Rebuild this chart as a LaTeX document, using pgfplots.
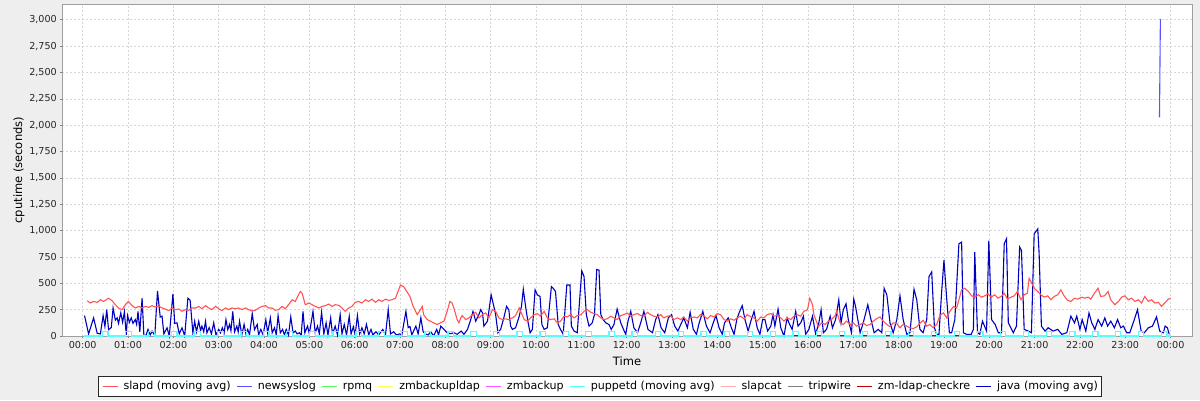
\documentclass[border=0pt]{standalone}
\usepackage{fontspec}
\setmainfont{DejaVu Sans}
\usepackage{pgfplots}
\pgfplotsset{compat=1.18}
\definecolor{bgc}{HTML}{EEEEEE}
\definecolor{gridc}{HTML}{D6D6D6}
\definecolor{slapd}{HTML}{FF5555}
\definecolor{newsys}{HTML}{5555FF}
\definecolor{rpmq}{HTML}{55FF55}
\definecolor{zmbl}{HTML}{FFFF55}
\definecolor{zmb}{HTML}{FF55FF}
\definecolor{pup}{HTML}{55FFFF}
\definecolor{slapcat}{HTML}{FFAFAF}
\definecolor{trip}{HTML}{808080}
\definecolor{zmldap}{HTML}{C00000}
\definecolor{java}{HTML}{0000C0}
\begin{document}
\begin{tikzpicture}[x=1pt,y=1pt]
\useasboundingbox (0,0) rectangle (1200,400);
\fill[bgc] (0,0) rectangle (1200,400);
\begin{axis}[
  at={(62pt,64pt)}, anchor=south west,
  scale only axis, width=1130pt, height=331.7pt,
  xmin=-0.457, xmax=24.473, ymin=0, ymax=3148,
  axis background/.style={fill=white},
  clip=false,
  xtick={0,...,24},
  xticklabels={00:00,01:00,02:00,03:00,04:00,05:00,06:00,07:00,08:00,09:00,10:00,11:00,12:00,13:00,14:00,15:00,16:00,17:00,18:00,19:00,20:00,21:00,22:00,23:00,00:00},
  ytick={0,250,...,3000},
  tick align=outside, xtick pos=bottom, ytick pos=left,
  major tick length=2pt,
  tick style={gray, line width=0.8pt},
  axis line style={draw=gray!75, line width=0.8pt},
  grid=major,
  major grid style={gridc, dash pattern=on 2pt off 2pt, line width=0.8pt},
  /pgf/number format/assume math mode=true,
  /pgf/number format/1000 sep={,},
  ticklabel style={font=\fontsize{9.6}{11}\selectfont, text=black!85},
  xticklabel style={anchor=north, inner sep=0pt, yshift=-3pt},
  yticklabel style={anchor=east, inner sep=0pt, xshift=-3pt},
  xlabel={Time},
  ylabel={cputime (seconds)},
  label style={font=\fontsize{11.5}{13}\selectfont},
  xlabel style={at={(axis description cs:0.5,-0.0754)}, anchor=center},
  ylabel style={at={(axis description cs:-0.0381,0.5)}, anchor=center, rotate=0},
  legend columns=10,
  reverse legend,
  legend style={at={(axis description cs:0.4761,-0.1206)}, anchor=north,
    draw=black!85, line width=1pt, fill=white,
    font=\fontsize{11.1}{13}\selectfont,
    inner xsep=4pt, inner ysep=4.5pt, column sep=5.5pt,
    nodes={inner sep=0pt, text height=8.5pt, text depth=2.5pt}},
  legend image code/.code={\draw[#1, line width=1pt] (0pt,0pt) -- (15pt,0pt);},
]
% java (moving avg)
\addplot[java, line width=1.1pt] coordinates {
(0.04,194)(0.13,20)(0.24,172)(0.32,25)(0.39,20)(0.45,194)(0.49,90)(0.53,250)(0.57,60)(0.63,80)(0.67,266)(0.72,150)(0.76,172)(0.79,120)(0.84,220)(0.88,130)(0.92,230)(0.96,10)(0.99,194)(1.03,130)(1.07,172)(1.11,120)(1.16,156)(1.19,110)(1.22,234)(1.26,40)(1.31,359)(1.35,0)(1.40,10)(1.44,63)(1.49,10)(1.53,47)(1.59,5)(1.65,428)(1.71,180)(1.75,188)(1.79,20)(1.86,78)(1.91,0)(1.99,400)(2.03,120)(2.08,125)(2.13,20)(2.19,78)(2.25,0)(2.32,359)(2.37,340)(2.43,30)(2.47,140)(2.51,40)(2.56,140)(2.60,50)(2.63,94)(2.67,40)(2.71,140)(2.74,30)(2.79,80)(2.84,20)(2.89,125)(2.94,10)(3.00,63)(3.04,30)(3.08,78)(3.12,30)(3.16,156)(3.20,60)(3.24,110)(3.27,50)(3.31,234)(3.35,40)(3.40,94)(3.43,40)(3.46,140)(3.51,10)(3.56,110)(3.60,20)(3.64,63)(3.68,10)(3.74,213)(3.79,60)(3.85,110)(3.88,10)(3.93,63)(3.98,10)(4.04,156)(4.08,30)(4.14,172)(4.18,30)(4.23,78)(4.27,10)(4.31,194)(4.36,30)(4.41,63)(4.45,10)(4.49,63)(4.54,10)(4.59,181)(4.64,30)(4.69,47)(4.73,20)(4.78,31)(4.82,5)(4.86,234)(4.90,30)(4.96,94)(5.00,20)(5.08,234)(5.13,30)(5.18,94)(5.22,20)(5.27,225)(5.32,20)(5.37,125)(5.41,10)(5.47,172)(5.51,20)(5.57,94)(5.62,10)(5.68,203)(5.72,20)(5.77,110)(5.82,10)(5.88,188)(5.92,20)(5.97,88)(6.01,10)(6.06,194)(6.11,20)(6.16,78)(6.21,20)(6.26,110)(6.31,10)(6.36,63)(6.40,10)(6.47,40)(6.53,10)(6.62,63)(6.68,10)(6.74,250)(6.79,20)(6.86,40)(6.92,10)(6.99,20)(7.04,10)(7.13,234)(7.18,80)(7.22,90)(7.26,10)(7.35,94)(7.40,20)(7.46,172)(7.51,40)(7.56,20)(7.62,10)(7.68,40)(7.74,0)(7.81,63)(7.85,10)(7.90,94)
(7.97,63)(8.04,31)(8.12,22)(8.19,31)(8.26,16)(8.35,47)(8.41,16)(8.49,63)(8.56,156)(8.61,234)(8.67,141)(8.74,203)(8.78,250)(8.82,219)(8.85,94)(8.93,141)(9.01,391)(9.07,281)(9.11,203)(9.16,31)(9.22,63)(9.29,172)(9.35,281)(9.40,250)(9.44,94)(9.48,63)(9.55,78)(9.63,188)(9.68,281)(9.72,444)(9.77,281)(9.82,141)(9.87,31)(9.92,63)(9.98,438)(10.03,391)(10.09,375)(10.13,109)(10.18,63)(10.25,78)(10.34,469)(10.38,453)(10.43,422)(10.49,109)(10.54,63)(10.60,16)(10.68,484)(10.75,484)(10.78,94)(10.84,47)(10.91,31)(11.01,619)(11.06,563)(11.11,203)(11.17,94)(11.24,125)(11.29,203)(11.34,631)(11.39,625)(11.43,203)(11.48,156)(11.54,125)(11.61,109)(11.66,63)(11.72,109)(11.79,256)(11.87,125)(11.93,63)(11.98,16)(12.03,141)(12.09,234)(12.16,78)(12.24,31)(12.31,125)(12.38,234)(12.47,63)(12.57,31)(12.64,156)(12.69,203)(12.76,78)(12.84,31)(12.92,172)(12.99,203)(13.06,94)(13.13,47)(13.21,125)(13.26,172)(13.34,78)(13.40,225)(13.47,63)(13.54,16)(13.60,125)(13.68,234)(13.76,94)(13.84,31)(13.91,125)(13.97,194)(14.04,78)(14.11,16)(14.16,125)(14.24,172)(14.31,78)(14.37,16)(14.43,156)(14.48,219)(14.55,288)(14.61,156)(14.68,47)(14.74,141)(14.81,234)(14.88,78)(14.94,16)(15.00,156)(15.05,156)(15.11,47)(15.18,94)(15.23,203)(15.27,94)(15.34,256)(15.40,78)(15.47,0)(15.54,172)(15.58,125)(15.65,63)(15.73,234)(15.78,94)(15.84,125)(15.90,188)(15.95,16)(16.02,63)(16.10,188)(16.17,16)(16.24,125)
(16.29,250)(16.34,31)(16.41,63)(16.49,188)(16.54,78)(16.61,156)(16.68,344)(16.73,125)(16.78,250)(16.84,306)(16.89,156)(16.96,31)(17.01,350)(17.05,281)(17.10,156)(17.15,31)(17.22,125)(17.32,297)(17.39,156)(17.46,31)(17.55,63)(17.63,31)(17.68,453)(17.74,391)(17.81,125)(17.88,31)(17.96,156)(18.03,381)(18.10,156)(18.18,16)(18.25,31)(18.34,444)(18.40,344)(18.47,63)(18.54,31)(18.62,156)(18.67,563)(18.73,609)(18.79,78)(18.84,16)(18.89,16)(18.95,422)(19.00,719)(19.06,359)(19.12,31)(19.17,31)(19.24,156)(19.33,875)(19.39,891)(19.43,31)(19.50,16)(19.60,16)(19.65,63)(19.68,797)(19.74,31)(19.79,16)(19.85,141)(19.94,47)(19.99,906)(20.05,156)(20.13,109)(20.20,31)(20.27,31)(20.33,875)(20.38,922)(20.42,125)(20.53,31)(20.60,94)(20.67,844)(20.71,813)(20.77,63)(20.86,47)(20.93,31)(20.99,969)(21.07,1016)(21.10,781)(21.15,94)(21.23,47)(21.30,78)(21.41,47)(21.51,63)(21.60,16)(21.71,31)(21.80,188)(21.88,125)(21.93,188)(22.00,63)(22.05,156)(22.13,47)(22.20,219)(22.26,125)(22.33,63)(22.40,156)(22.48,94)(22.55,172)(22.61,94)(22.68,141)(22.76,78)(22.83,156)(22.90,78)(22.96,94)(23.03,31)(23.10,31)(23.20,156)(23.27,250)(23.35,47)(23.42,31)(23.51,78)(23.60,94)(23.69,181)(23.76,47)(23.84,31)(23.88,94)(23.93,78)(23.97,16)
};
\addlegendentry{java (moving avg)}
% zm-ldap-checkre
\addplot[zmldap, line width=1.1pt] coordinates {(15.45,9)(16.5,9)(17.5,9)(18.5,9)(19.75,9)};
\addlegendentry{zm-ldap-checkre}
\addlegendimage{trip, line width=1pt}
\addlegendentry{tripwire}
\addlegendimage{slapcat, line width=1pt}
\addlegendentry{slapcat}
% puppetd (moving avg)
\addplot[pup, line width=1.2pt, const plot] coordinates {
(0.02,0)(0.44,45)(0.56,0)(0.95,45)(1.07,0)(1.46,45)(1.58,0)(1.96,45)(2.08,0)(2.47,45)(2.59,0)(2.98,45)(3.10,0)(3.49,45)(3.61,0)(3.99,45)(4.11,0)(4.50,45)(4.62,0)(5.01,45)(5.13,0)(5.52,45)(5.64,0)(6.03,45)(6.15,0)(6.53,45)(6.65,0)(7.04,45)(7.16,0)(7.55,45)(7.67,0)(8.06,45)(8.18,0)(8.56,45)(8.68,0)(9.07,45)(9.19,0)(9.58,45)(9.70,0)(10.09,45)(10.21,0)(10.60,45)(10.72,0)(11.10,45)(11.22,0)(11.61,45)(11.73,0)(12.12,45)(12.24,0)(12.63,45)(12.75,0)(13.14,45)(13.26,0)(13.64,45)(13.76,0)(14.15,45)(14.27,0)(14.66,45)(14.78,0)(15.17,45)(15.29,0)(15.67,45)(15.79,0)(16.18,45)(16.30,0)(16.69,45)(16.81,0)(17.20,45)(17.32,0)(17.71,45)(17.83,0)(18.21,45)(18.33,0)(18.72,45)(18.84,0)(19.23,45)(19.35,0)(19.74,45)(19.86,0)(20.24,45)(20.36,0)(20.75,45)(20.87,0)(21.26,45)(21.38,0)(21.77,45)(21.89,0)(22.28,45)(22.40,0)(22.78,45)(22.90,0)(23.29,45)(23.41,0)(23.80,45)(23.92,0)(24.0,0)
};
\addlegendentry{puppetd (moving avg)}
\addlegendimage{zmb, line width=1pt}
\addlegendentry{zmbackup}
\addlegendimage{zmbl, line width=1pt}
\addlegendentry{zmbackupldap}
\addlegendimage{rpmq, line width=1pt}
\addlegendentry{rpmq}
% newsyslog
\addplot[newsys, line width=1.1pt] coordinates {(23.755,2075)(23.775,3010)};
\addlegendentry{newsyslog}
% slapd (moving avg)
\addplot[slapd, line width=1.1pt] coordinates {
(0.10,334)(0.17,313)(0.24,328)(0.32,319)(0.39,344)(0.46,328)(0.57,359)(0.65,334)(0.72,297)(0.79,266)(0.87,250)(0.94,297)(1.01,328)(1.09,288)(1.16,266)(1.24,281)(1.31,266)(1.38,281)(1.46,272)(1.53,288)(1.60,275)(1.68,281)(1.75,266)(1.82,256)(1.90,241)(1.97,266)(2.04,250)(2.12,256)(2.19,234)(2.26,250)(2.34,244)(2.41,266)(2.49,266)(2.56,281)(2.63,259)(2.71,288)(2.78,266)(2.85,250)(2.93,281)(3.00,259)(3.07,241)(3.15,266)(3.22,250)(3.29,266)(3.37,259)(3.44,266)(3.51,250)(3.59,266)(3.66,250)(3.74,238)(3.81,244)(3.88,266)(3.96,281)(4.03,288)(4.10,266)(4.18,266)(4.25,244)(4.32,250)(4.40,281)(4.47,259)(4.54,297)(4.62,344)(4.69,328)(4.76,391)(4.80,422)(4.84,406)(4.91,297)(4.99,313)(5.06,297)(5.13,281)(5.21,266)(5.28,281)(5.35,288)(5.43,303)(5.50,281)(5.57,297)(5.65,291)(5.72,266)(5.79,234)(5.87,266)(5.94,281)(6.01,319)(6.09,328)(6.16,313)(6.24,344)(6.31,328)(6.38,350)(6.46,319)(6.53,344)(6.60,328)(6.68,350)(6.75,338)(6.82,344)(6.90,359)(6.97,438)(7.01,484)(7.08,469)(7.15,422)(7.22,375)(7.29,281)(7.38,203)(7.45,250)(7.49,281)(7.52,203)(7.60,156)(7.67,141)(7.74,125)(7.82,109)(7.89,125)
(7.97,141)(8.04,234)(8.10,328)(8.15,313)(8.21,234)(8.26,156)(8.30,125)(8.34,172)(8.37,194)(8.45,156)(8.52,172)(8.60,203)(8.67,225)(8.74,172)(8.82,203)(8.89,219)(8.96,172)(9.04,250)(9.11,234)(9.18,172)(9.26,156)(9.33,163)(9.40,156)(9.48,172)(9.55,194)(9.63,266)(9.66,234)(9.74,156)(9.81,141)(9.88,172)(9.96,203)(10.03,213)(10.10,188)(10.18,234)(10.25,172)(10.32,156)(10.40,163)(10.47,125)(10.54,141)(10.62,188)(10.69,181)(10.76,203)(10.84,172)(10.91,194)(10.99,203)(11.06,234)(11.13,250)(11.21,225)(11.28,213)(11.35,203)(11.43,172)(11.50,156)(11.57,163)(11.65,188)(11.72,172)(11.79,156)(11.87,194)(11.94,203)(12.01,219)(12.09,188)(12.16,203)(12.24,213)(12.31,194)(12.38,188)(12.46,225)(12.53,203)(12.60,188)(12.68,181)(12.75,203)(12.82,172)(12.90,188)(12.97,194)(13.04,156)(13.12,172)(13.19,156)(13.26,181)(13.34,141)(13.41,172)(13.49,181)(13.56,172)(13.63,203)(13.71,188)(13.78,163)(13.85,194)(13.93,181)(14.00,213)(14.07,203)(14.15,156)(14.22,141)(14.29,163)(14.37,150)(14.44,172)(14.51,188)(14.59,163)(14.66,203)(14.74,181)(14.81,172)(14.88,141)(14.96,181)(15.03,172)(15.10,203)(15.18,213)(15.25,188)(15.32,194)(15.40,172)(15.47,141)(15.54,172)(15.62,156)(15.69,188)(15.76,203)(15.84,188)(15.91,234)(15.99,250)(16.04,359)(16.10,297)(16.13,203)
(16.23,88)(16.30,125)(16.38,109)(16.45,141)(16.52,156)(16.60,194)(16.63,234)(16.67,181)(16.71,125)(16.78,109)(16.85,141)(16.93,109)(17.00,125)(17.07,94)(17.15,109)(17.22,125)(17.29,100)(17.37,109)(17.44,141)(17.51,163)(17.59,181)(17.66,141)(17.74,109)(17.81,88)(17.88,125)(17.96,119)(18.03,78)(18.10,109)(18.18,94)(18.25,78)(18.32,69)(18.40,88)(18.48,125)(18.54,150)(18.62,94)(18.69,109)(18.76,78)(18.84,109)(18.91,194)(18.99,219)(19.06,172)(19.13,234)(19.21,281)(19.28,266)(19.33,344)(19.39,438)(19.46,453)(19.54,422)(19.61,381)(19.68,369)(19.76,391)(19.83,369)(19.90,381)(19.97,400)(20.04,369)(20.12,391)(20.19,359)(20.26,375)(20.33,406)(20.40,350)(20.48,369)(20.55,381)(20.62,422)(20.70,344)(20.77,391)(20.84,406)(20.88,547)(20.92,516)(20.99,453)(21.07,422)(21.14,391)(21.21,369)(21.29,381)(21.36,344)(21.43,375)(21.51,391)(21.58,438)(21.65,381)(21.73,338)(21.80,328)(21.88,359)(21.95,350)(22.04,369)(22.10,359)(22.18,369)(22.24,350)(22.32,406)(22.40,453)(22.46,375)(22.54,381)(22.62,422)(22.68,344)(22.77,297)(22.85,328)(22.92,369)(22.99,381)(23.07,344)(23.14,359)(23.21,328)(23.29,344)(23.36,313)(23.43,375)(23.51,328)(23.58,344)(23.65,313)(23.73,319)(23.80,281)(23.87,313)(23.95,350)(24.00,359)
};
\addlegendentry{slapd (moving avg)}
\end{axis}
\end{tikzpicture}
\end{document}
